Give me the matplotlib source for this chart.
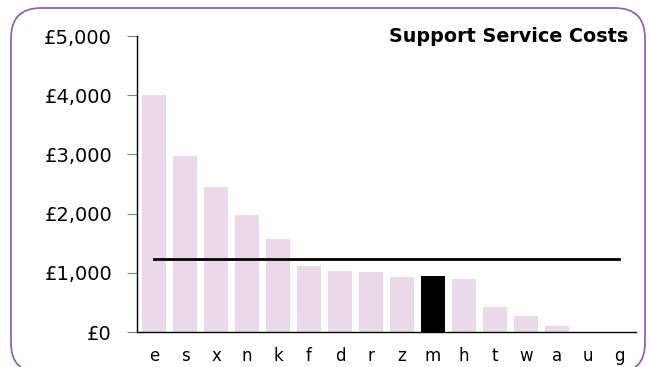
import matplotlib
matplotlib.use("Agg")
import matplotlib.pyplot as plt
from matplotlib.patches import FancyBboxPatch
from matplotlib.ticker import FuncFormatter

categories = ["e", "s", "x", "n", "k", "f", "d", "r", "z", "m", "h", "t", "w", "a", "u", "g"]
values = [4005, 2975, 2455, 1975, 1565, 1110, 1035, 1015, 935, 945, 900, 430, 275, 100, 0, 0]
highlight = "m"
average = 1228
title = "Support Service Costs"

plt.rcParams['font.family'] = ['DejaVu Sans']

fig = plt.figure(figsize=(6.5, 3.67), dpi=100)
ax = fig.add_axes([137/650, (367-332)/367, 499/650, (332-36)/367])

x = list(range(len(categories)))
colors = ["#000000" if c == highlight else "#ebd9eb" for c in categories]
ax.bar(x, values, width=0.8, color=colors, zorder=2)
ax.plot([x[0], x[-1]], [average, average], color="black", linewidth=2, zorder=3)

ax.set_xlim(-0.55, len(categories) - 0.45)
ax.set_ylim(0, 5000)
ax.set_yticks([0, 1000, 2000, 3000, 4000, 5000])
ax.yaxis.set_major_formatter(FuncFormatter(lambda v, p: "£{:,.0f}".format(v)))
ax.set_xticks(x)
ax.set_xticklabels(categories)
ax.tick_params(axis="y", length=7, color="#808080", labelsize=14, pad=11)
ax.tick_params(axis="x", length=0, labelsize=12, pad=11)
for s in ["top", "right"]:
    ax.spines[s].set_visible(False)
for s in ["left", "bottom"]:
    ax.spines[s].set_color("black")
    ax.spines[s].set_linewidth(1)

fig.text(628/650, 1 - 42/367, title, ha="right", va="baseline", fontsize=13.8, fontweight="bold")

box = FancyBboxPatch((0.11, -0.06), 6.34, 3.65, boxstyle="round,pad=0,rounding_size=0.3",
                     transform=fig.dpi_scale_trans, facecolor="none", edgecolor="#8a55c0",
                     linewidth=1.2, clip_on=False)
fig.patches.append(box)

fig.savefig("out.png", dpi=100)
